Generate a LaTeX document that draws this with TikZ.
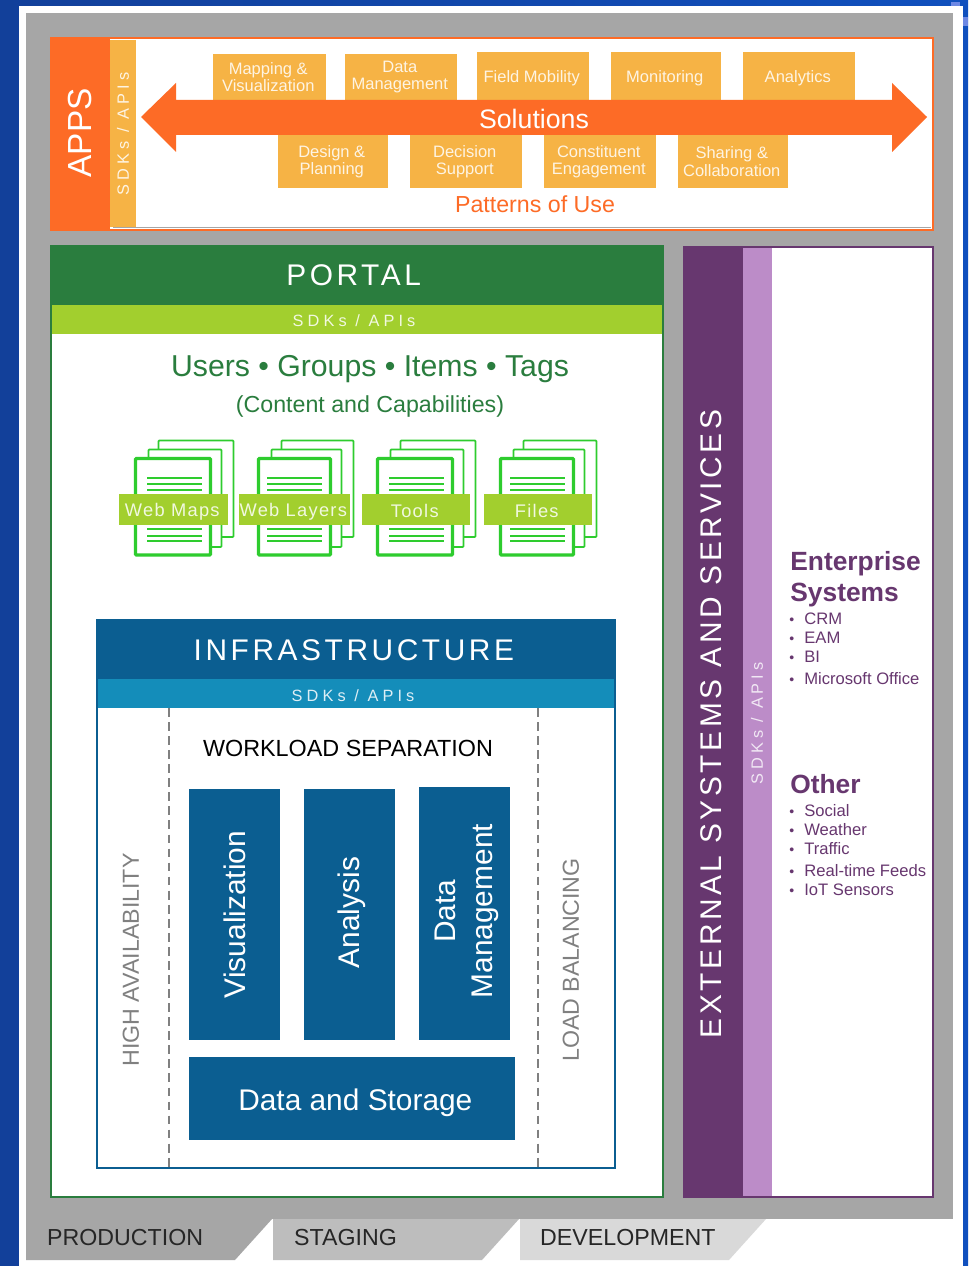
\documentclass[tikz,border=0pt]{standalone}
\usepackage{fontspec}
\usepackage{amsmath, amssymb, amsfonts}
\usepackage{tikz}
\usetikzlibrary{calc}
\setmainfont{Liberation Sans}
\newfontfamily\headfont[LetterSpace=12]{Liberation Sans}
\newfontfamily\apifont[LetterSpace=25]{Liberation Sans}
\newfontfamily\docfont[LetterSpace=7]{Liberation Sans}

\definecolor{appsorange}{HTML}{FD6B26}
\definecolor{appstan}{HTML}{F6B345}
\definecolor{portalgreen}{HTML}{2A7D3E}
\definecolor{portallime}{HTML}{A2CF2E}
\definecolor{docgreen}{HTML}{2ECC2E}
\definecolor{infrablue}{HTML}{0B5E91}
\definecolor{infrateal}{HTML}{148DBA}
\definecolor{extpurple}{HTML}{67376F}
\definecolor{extlilac}{HTML}{BC8CC8}
\definecolor{bgblue}{HTML}{1050BE}
\definecolor{bgdark}{HTML}{12409A}
\definecolor{panelgray}{HTML}{A6A6A6}

\tikzset{
    solution/.style={font=\fontsize{9.4}{9.8}\selectfont, align=center, text=white!85!appstan, xshift=-0.7pt},
    tier/.style={font=\fontsize{13.2}{14}\selectfont, text=black!85, anchor=west},
    workload/.style={font=\fontsize{17}{20}\selectfont, align=center, text=white, rotate=90},
    sidelabel/.style={font=\fontsize{13.2}{14}\selectfont, text=black!50, rotate=90},
    extitem/.style={font=\fontsize{9.45}{10}\selectfont, text=extpurple, anchor=west},
    exttitle/.style={font=\bfseries\fontsize{15}{15}\selectfont, text=extpurple, anchor=west},
    apilabel/.style={font=\apifont\fontsize{9.3}{10}\selectfont}
}

\begin{document}
\begin{tikzpicture}[x=0.02cm, y=-0.02cm]
    \useasboundingbox (0,0) rectangle (968,1266);

    % Background
    \shade[left color=bgdark, right color=bgblue] (0,0) rectangle (968,1266);
    \fill[white] (19,6) rectangle (963,1266);
    \fill[blue!30!bgblue!60!white] (951,2) rectangle (960,6);
    \fill[blue!30!bgblue!60!white] (963,17) rectangle (968,26);
    \fill[panelgray] (26,13) rectangle (953,1219);

    % Tabs
    \fill[panelgray] (26,1219) -- (272,1219) -- (235,1260) -- (26,1260) -- cycle;
    \fill[black!26] (273,1219) -- (519,1219) -- (482,1260) -- (273,1260) -- cycle;
    \fill[black!15] (520,1219) -- (766,1219) -- (729,1260) -- (520,1260) -- cycle;
    \node[tier] (production) at (41,1238) {PRODUCTION};
    \node[tier] (staging) at (288,1238) {STAGING};
    \node[tier] (development) at (534,1238) {DEVELOPMENT};

    % Apps
    \draw[appsorange, fill=white, line width=1.5pt] (51,38) rectangle (933,230);
    \draw[black!35, line width=0.6pt] (113,227.5) -- (931,227.5);
    \fill[appsorange] (50,37) rectangle (110,231);
    \fill[appstan] (110,40) rectangle (136,227);
    \node[text=white, rotate=90, font=\fontsize{19}{20}\selectfont] (apps) at (80,133) {APPS};
    \node[apilabel, text=white!85!appstan, rotate=90] (appsapi) at (123,134) {SDKs / APIs};

    % Solutions above and below the arrow
    \fill[appstan] (213,54) rectangle node[solution] (mapping) {Mapping \&\\Visualization} (326,100);
    \fill[appstan] (345,54) rectangle node[solution] (datamgmt) {Data\\Management} (457,100);
    \fill[appstan] (477,52) rectangle node[solution, yshift=-1.5pt] (field) {Field Mobility} (589,100);
    \fill[appstan] (611,52) rectangle node[solution, yshift=-1.5pt] (monitoring) {Monitoring} (721,100);
    \fill[appstan] (743,52) rectangle node[solution, yshift=-1.5pt] (analytics) {Analytics} (855,100);
    \fill[appstan] (278,135) rectangle node[solution] (design) {Design \&\\Planning} (388,188);
    \fill[appstan] (410,135) rectangle node[solution] (decision) {Decision\\Support} (522,188);
    \fill[appstan] (544,135) rectangle node[solution] (constituent) {Constituent\\Engagement} (656,188);
    \fill[appstan] (678,135) rectangle node[solution] (sharing) {Sharing \&\\Collaboration} (788,188);

    % Arrow
    \fill[appsorange] (141,117) -- (176,83) -- (176,100) -- (892,100) -- (892,83) -- (927,117)
        -- (892,152) -- (892,135) -- (176,135) -- (176,152) -- cycle;
    \node[text=white, font=\fontsize{15.2}{16}\selectfont] (solutions) at (534,119) {Solutions};
    \node[text=appsorange, font=\fontsize{13.2}{14}\selectfont] (patterns) at (535,204) {Patterns of Use};

    % Portal
    \draw[portalgreen, fill=white, line width=1.2pt] (51,246) rectangle (663,1197);
    \fill[portalgreen] (50,246) rectangle node[text=white, xshift=-1.9pt, font=\headfont\fontsize{17}{18}\selectfont] (portal) {PORTAL} (664,305);
    \fill[portallime] (52,305) rectangle node[apilabel, text=white!85!portallime, xshift=-1.7pt, yshift=-0.8pt] (portalapi) {SDKs / APIs} (662,334);
    \node[text=portalgreen, font=\fontsize{17.2}{18}\selectfont] (users) at (370,369) {Users • Groups • Items • Tags};
    \node[text=portalgreen, font=\fontsize{13.2}{14}\selectfont] (content) at (370,407) {(Content and Capabilities)};

    % Document stacks
    \foreach \dx/\sh/\cx/\lw/\lbl/\nm in {0/0/173.5/54.5/Web Maps/maps, 123/3/294.5/55.5/Web Layers/layers, 242/0/416/54/Tools/tools, 365/2/538/54/Files/files} {
        \draw[docgreen, fill=white, line width=1pt, rounded corners=0.5pt] (\dx+158.5,440.5) rectangle (\dx+233.5-\sh,537);
        \draw[docgreen, fill=white, line width=1pt, rounded corners=0.5pt] (\dx+148.5,449.5) rectangle (\dx+221.5-\sh,547);
        \draw[docgreen, fill=white, line width=1.9pt, rounded corners=0.5pt] (\dx+135.5,458.5) rectangle (\dx+210.5-\sh,555);
        \foreach \ly in {478, 484, 490, 529, 536, 541}
            \draw[docgreen, line width=0.8pt] (\dx-\sh+147,\ly) -- (\dx-\sh+202,\ly);
        \fill[portallime] (\cx-\lw,494) rectangle node[text=white!85!portallime, xshift=-0.7pt, yshift=-1.1pt, font=\docfont\fontsize{10.4}{11}\selectfont] (\nm) {\lbl} (\cx+\lw,525);
    }

    % Infrastructure
    \draw[infrablue, fill=white, line width=1.2pt] (97,620) rectangle (615,1168);
    \fill[infrablue] (96,620) rectangle node[text=white, xshift=-1.2pt, yshift=-0.5pt, font=\headfont\fontsize{17}{18}\selectfont] (infra) {INFRASTRUCTURE} (616,679);
    \fill[infrateal] (98,679) rectangle node[apilabel, text=white!85!infrateal, xshift=-1.7pt, yshift=-1.4pt] (infraapi) {SDKs / APIs} (614,708);
    \draw[black!50, line width=1pt, dash pattern=on 5pt off 3pt] (169,708) -- (169,1167);
    \draw[black!50, line width=1pt, dash pattern=on 5pt off 3pt] (538,708) -- (538,1167);
    \node[text=black, font=\fontsize{13.3}{14}\selectfont] (separation) at (348,748) {WORKLOAD SEPARATION};
    \fill[infrablue] (189,789) rectangle node[workload] (viz) {Visualization} (280,1040);
    \fill[infrablue] (304,789) rectangle node[workload, xshift=1.1pt, yshift=-1.1pt] (analysis) {Analysis} (395,1040);
    \fill[infrablue] (419,787) rectangle node[workload, xshift=1.3pt, yshift=-1.5pt] (management) {Data\\[1pt]Management} (510,1040);
    \fill[infrablue] (189,1057) rectangle node[text=white, xshift=1.9pt, yshift=-2.2pt, font=\fontsize{17}{18}\selectfont] (storage) {Data and Storage} (515,1140);
    \node[sidelabel] (availability) at (131,960) {HIGH AVAILABILITY};
    \node[sidelabel] (balancing) at (571,960) {LOAD BALANCING};

    % External systems
    \draw[extpurple, fill=white, line width=1.2pt] (684,247) rectangle (933,1197);
    \fill[extpurple] (683,247) rectangle (743,1198);
    \fill[extlilac] (743,248) rectangle (772,1196);
    \node[text=white, rotate=90, font=\headfont\fontsize{17}{18}\selectfont] (external) at (711,724) {EXTERNAL SYSTEMS AND SERVICES};
    \node[apilabel, text=white!80!extlilac, rotate=90] (extapi) at (757,723.5) {SDKs / APIs};
    \node[exttitle, inner sep=0pt] (enterprise) at (790,564) {Enterprise};
    \node[exttitle, inner sep=0pt] (systems) at (790,595) {Systems};
    \node[exttitle, inner sep=0pt] (other) at (790,784) {Other};
    \foreach \y/\txt/\nm in {619/CRM/crm, 638/EAM/eam, 657/BI/bi, 679/Microsoft Office/office,
            811/Social/social, 830/Weather/weather, 849/Traffic/traffic, 871/Real-time Feeds/feeds, 890/IoT Sensors/iot} {
        \node[extitem, inner sep=0pt] (\nm) at (804,\y) {\llap{\fontsize{8}{8}\selectfont •\hspace{5.8pt}}\txt};
    }

\end{tikzpicture}
\end{document}
